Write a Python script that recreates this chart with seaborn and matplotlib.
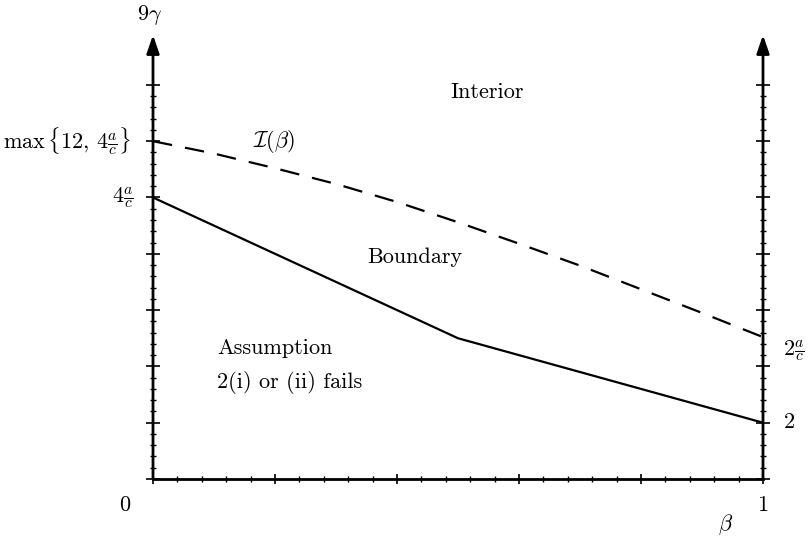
import matplotlib
matplotlib.use("Agg")
import matplotlib.pyplot as plt
import seaborn as sns
import numpy as np
import pandas as pd
from matplotlib.ticker import MultipleLocator, FixedLocator

# ---- data ----
beta_boundary = [0.0, 0.5, 1.0]
gamma_boundary = [5.0, 2.5, 1.0]

beta_interior = [0.0, 0.1, 0.2, 0.3, 0.4, 0.5, 0.6, 0.7, 0.8, 0.9, 1.0]
gamma_interior = [6.0, 5.78, 5.52, 5.24, 4.92, 4.56, 4.18, 3.79, 3.37, 2.95, 2.52]

x_tick_major = [0.0, 0.2, 0.4, 0.6, 0.8, 1.0]
y_tick_major = [0, 1, 2, 3, 4, 5, 6, 7]
y_tick_minor = [i / 5 for i in range(0, 36) if i % 5 != 0]

sns.set_style("white")
plt.rcParams['mathtext.fontset'] = 'cm'
plt.rcParams['font.family'] = ['cmr10', 'DejaVu Serif']
plt.rcParams['axes.unicode_minus'] = False
plt.rcParams['lines.scale_dashes'] = False

fig = plt.figure(figsize=(8.11, 5.39), dpi=100)
ymax = 7.886
ax = fig.add_axes([153/811, 1-479/539, 610/811, 444/539])

df_b = pd.DataFrame({"beta": beta_boundary, "gamma": gamma_boundary})
df_i = pd.DataFrame({"beta": beta_interior, "gamma": gamma_interior})
sns.lineplot(data=df_b, x="beta", y="gamma", ax=ax, color="black", lw=1.6)
sns.lineplot(data=df_i, x="beta", y="gamma", ax=ax, color="black", lw=1.6,
             linestyle=(0, (14, 9.5)))

ax.set_xlim(0, 1)
ax.set_ylim(0, ymax)
ax.set_xlabel("")
ax.set_ylabel("")

for s in ["top", "left", "right"]:
    ax.spines[s].set_visible(False)
ax.spines["bottom"].set_linewidth(2)
ax.spines["bottom"].set_color("black")

# vertical axes with arrow heads
for xv in (0.0, 1.0):
    ax.annotate("", xy=(xv, ymax), xytext=(xv, 0.0),
                arrowprops=dict(arrowstyle="-|>,head_length=1.1,head_width=0.38",
                                lw=2.0, color="black", mutation_scale=10,
                                shrinkA=0, shrinkB=0),
                annotation_clip=False)

ax.set_xticks(x_tick_major)
ax.xaxis.set_minor_locator(MultipleLocator(0.04))
ax.set_yticks(y_tick_major)
ax.yaxis.set_minor_locator(FixedLocator(y_tick_minor))
ax.set_xticklabels([])
ax.set_yticklabels([])
ax.tick_params(axis="x", which="major", direction="inout", length=7, width=1.2,
               color="black", bottom=True)
ax.tick_params(axis="x", which="minor", direction="inout", length=4.5, width=1.0,
               color="black", bottom=True)
ax.tick_params(axis="y", which="major", direction="inout", length=9.5, width=1.2,
               color="black", left=True, right=True)
ax.tick_params(axis="y", which="minor", direction="inout", length=5, width=1.0,
               color="black", left=True, right=True)

fs = 16
kw = dict(clip_on=False, fontsize=fs, color="black")
ax.text(-0.005, 8.24, r"$9\gamma$", ha="center", va="center", **kw)
ax.text(-0.036, 6.0, r"$\max\,\{12,\,4\frac{a}{c}\}$", ha="right", va="center", **kw)
ax.text(-0.033, 5.0, r"$4\frac{a}{c}$", ha="right", va="center", **kw)
ax.text(1.033, 2.29, r"$2\frac{a}{c}$", ha="left", va="center", **kw)
ax.text(1.033, 1.0, r"$2$", ha="left", va="center", **kw)
ax.text(-0.046, -0.46, r"$0$", ha="center", va="center", **kw)
ax.text(1.0, -0.46, r"$1$", ha="center", va="center", **kw)
ax.text(0.938, -0.82, r"$\beta$", ha="center", va="center", **kw)
ax.text(0.487, 6.87, "Interior", ha="left", va="center", **kw)
ax.text(0.164, 5.99, r"$\mathcal{I}(\beta)$", ha="left", va="center", **kw)
ax.text(0.352, 3.93, "Boundary", ha="left", va="center", **kw)
ax.text(0.105, 2.33, "Assumption", ha="left", va="center", **kw)
ax.text(0.105, 1.71, "2(i) or (ii) fails", ha="left", va="center", **kw)

fig.savefig("out.png", dpi=100)
